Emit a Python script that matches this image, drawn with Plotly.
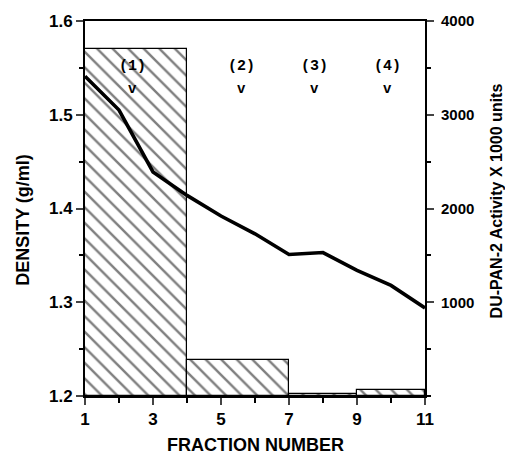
import plotly.graph_objects as go

# Data
fraction = [1, 2, 3, 4, 5, 6, 7, 8, 9, 10, 11]
density = [1.541, 1.505, 1.439, 1.414, 1.392, 1.373, 1.351, 1.353, 1.334, 1.318, 1.294]

bin_start = [1, 4, 7, 9]
bin_end = [4, 7, 9, 11]
activity = [3700, 385, 20, 65]

peak_labels = ["(1)", "(2)", "(3)", "(4)"]
peak_pos = [2.4, 5.6, 7.75, 9.9]

bar_x = [(a + b) / 2 for a, b in zip(bin_start, bin_end)]
bar_w = [b - a for a, b in zip(bin_start, bin_end)]

FONT = "Liberation Sans, Arial, sans-serif"

fig = go.Figure()
fig.add_trace(go.Bar(
    x=bar_x, y=activity, width=bar_w, yaxis="y",
    marker=dict(color="white", line=dict(color="black", width=1.2),
                pattern=dict(shape="\\", fgcolor="black", bgcolor="white",
                             size=11, solidity=0.22)),
    showlegend=False,
))
fig.add_trace(go.Scatter(
    x=fraction, y=density, yaxis="y2", mode="lines",
    line=dict(color="black", width=3.6), showlegend=False,
))

for lab, px in zip(peak_labels, peak_pos):
    fig.add_annotation(x=px, y=1.551, yref="y2", text=lab, showarrow=False,
                       font=dict(family="Liberation Mono, monospace", size=15, color="black", weight="bold"))
    fig.add_annotation(x=px, y=1.527, yref="y2", text="v", showarrow=False,
                       font=dict(family="Liberation Mono, monospace", size=14, color="black", weight="bold"))

# axis titles as annotations for precise placement
fig.add_annotation(xref="paper", yref="paper", x=0.5, y=-0.131, yanchor="middle",
                   text="FRACTION NUMBER", showarrow=False,
                   font=dict(family=FONT, size=18, color="black", weight="bold"))
fig.add_annotation(xref="paper", yref="paper", x=-0.182, xanchor="center", y=0.47, yanchor="middle",
                   text="DENSITY (g/ml)", textangle=-90, showarrow=False,
                   font=dict(family=FONT, size=18, color="black", weight="bold"))
fig.add_annotation(xref="paper", yref="paper", x=1.21, xanchor="center", y=0.52, yanchor="middle",
                   text="DU-PAN-2 Activity X 1000 units", textangle=-90, showarrow=False,
                   font=dict(family=FONT, size=16, color="black", weight="bold"))

tickfont = dict(family=FONT, size=17, color="black", weight="bold")

fig.update_layout(
    width=505, height=455,
    margin=dict(l=85, r=80, t=21, b=59),
    plot_bgcolor="white", paper_bgcolor="white",
    bargap=0,
    xaxis=dict(range=[1, 11], tickvals=[1, 3, 5, 7, 9, 11], ticks="outside", ticklen=7,
               tickwidth=2, showline=True, linewidth=2, linecolor="black", mirror=True,
               showgrid=False, zeroline=False, tickfont=tickfont, automargin=False,
               minor=dict(dtick=1, ticks="outside", ticklen=5, tickwidth=1.5, tickcolor="black")),
    yaxis=dict(side="right", range=[0, 4000], tickvals=[1000, 2000, 3000, 4000], ticks="outside",
               ticklen=7, tickwidth=2, showline=True, linewidth=2, linecolor="black",
               showgrid=False, zeroline=False, automargin=False, ticklabelstandoff=4,
               tickfont=dict(family=FONT, size=15, color="black", weight="bold"),
               minor=dict(dtick=500, ticks="outside", ticklen=4, tickwidth=1.5, tickcolor="black")),
    yaxis2=dict(side="left", overlaying="y", range=[1.2, 1.6], dtick=0.1, tickformat=".1f",
                ticks="outside", ticklen=7, tickwidth=2, showline=True, linewidth=2, linecolor="black",
                showgrid=False, zeroline=False, tickfont=tickfont, automargin=False,
                minor=dict(dtick=0.05, ticks="outside", ticklen=4, tickwidth=1.5, tickcolor="black")),
)

# remove the default page margin so the figure fills the window exactly
fig.write_html("out.html", config={"displayModeBar": False},
               post_script="document.body.style.margin='0';document.body.style.overflow='hidden';")
